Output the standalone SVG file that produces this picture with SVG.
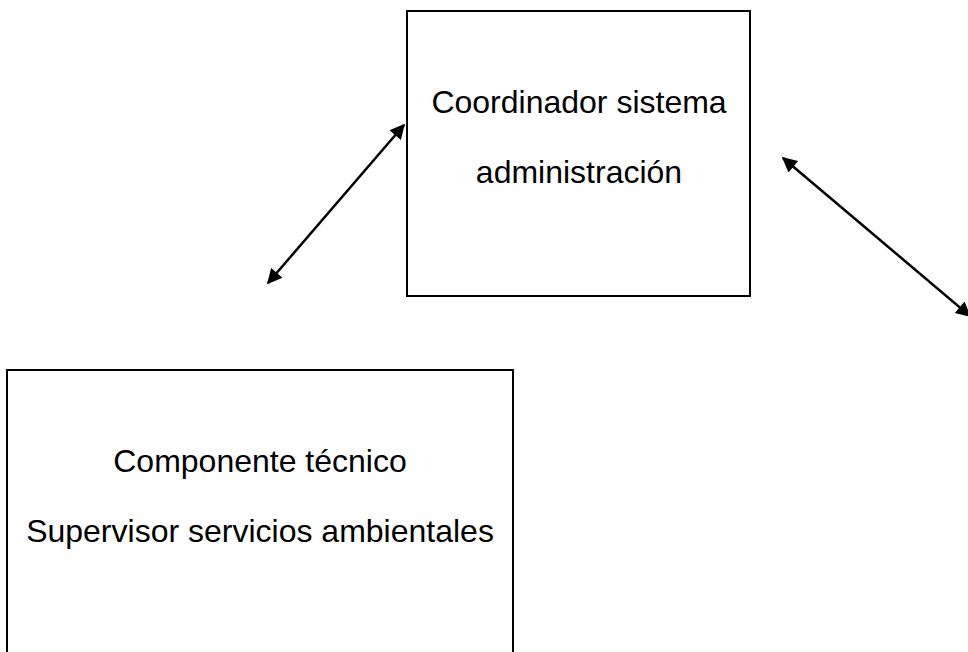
<svg xmlns="http://www.w3.org/2000/svg" width="968" height="652" viewBox="0 0 968 652">
<style>
.box{fill:#fff;stroke:#000;stroke-width:2}
.lbl{font-family:"Liberation Sans",Arial,sans-serif;font-size:32px;fill:#000;text-anchor:middle}
.conn{stroke:#000;stroke-width:2.5;fill:none;marker-start:url(#ah);marker-end:url(#ah)}
</style>
<defs>
<marker id="ah" viewBox="0 0 10 10" refX="9" refY="5" markerWidth="7" markerHeight="6" markerUnits="strokeWidth" orient="auto-start-reverse">
<path d="M0,0 L10,5 L0,10 z" fill="#000"/>
</marker>
</defs>
<rect width="968" height="652" fill="#fff"/>
<g id="n1">
<rect class="box" x="407" y="11" width="343" height="285"/>
<text class="lbl" x="579" y="113">Coordinador sistema</text>
<text class="lbl" x="579" y="183">administración</text>
</g>
<g id="n2">
<rect class="box" x="7" y="370" width="506" height="300"/>
<text class="lbl" x="260" y="472">Componente técnico</text>
<text class="lbl" x="260" y="542">Supervisor servicios ambientales</text>
</g>
<g id="connectors">
<line class="conn" x1="268" y1="283" x2="404" y2="125"/>
<line class="conn" x1="783" y1="158" x2="970" y2="316"/>
</g>
</svg>
